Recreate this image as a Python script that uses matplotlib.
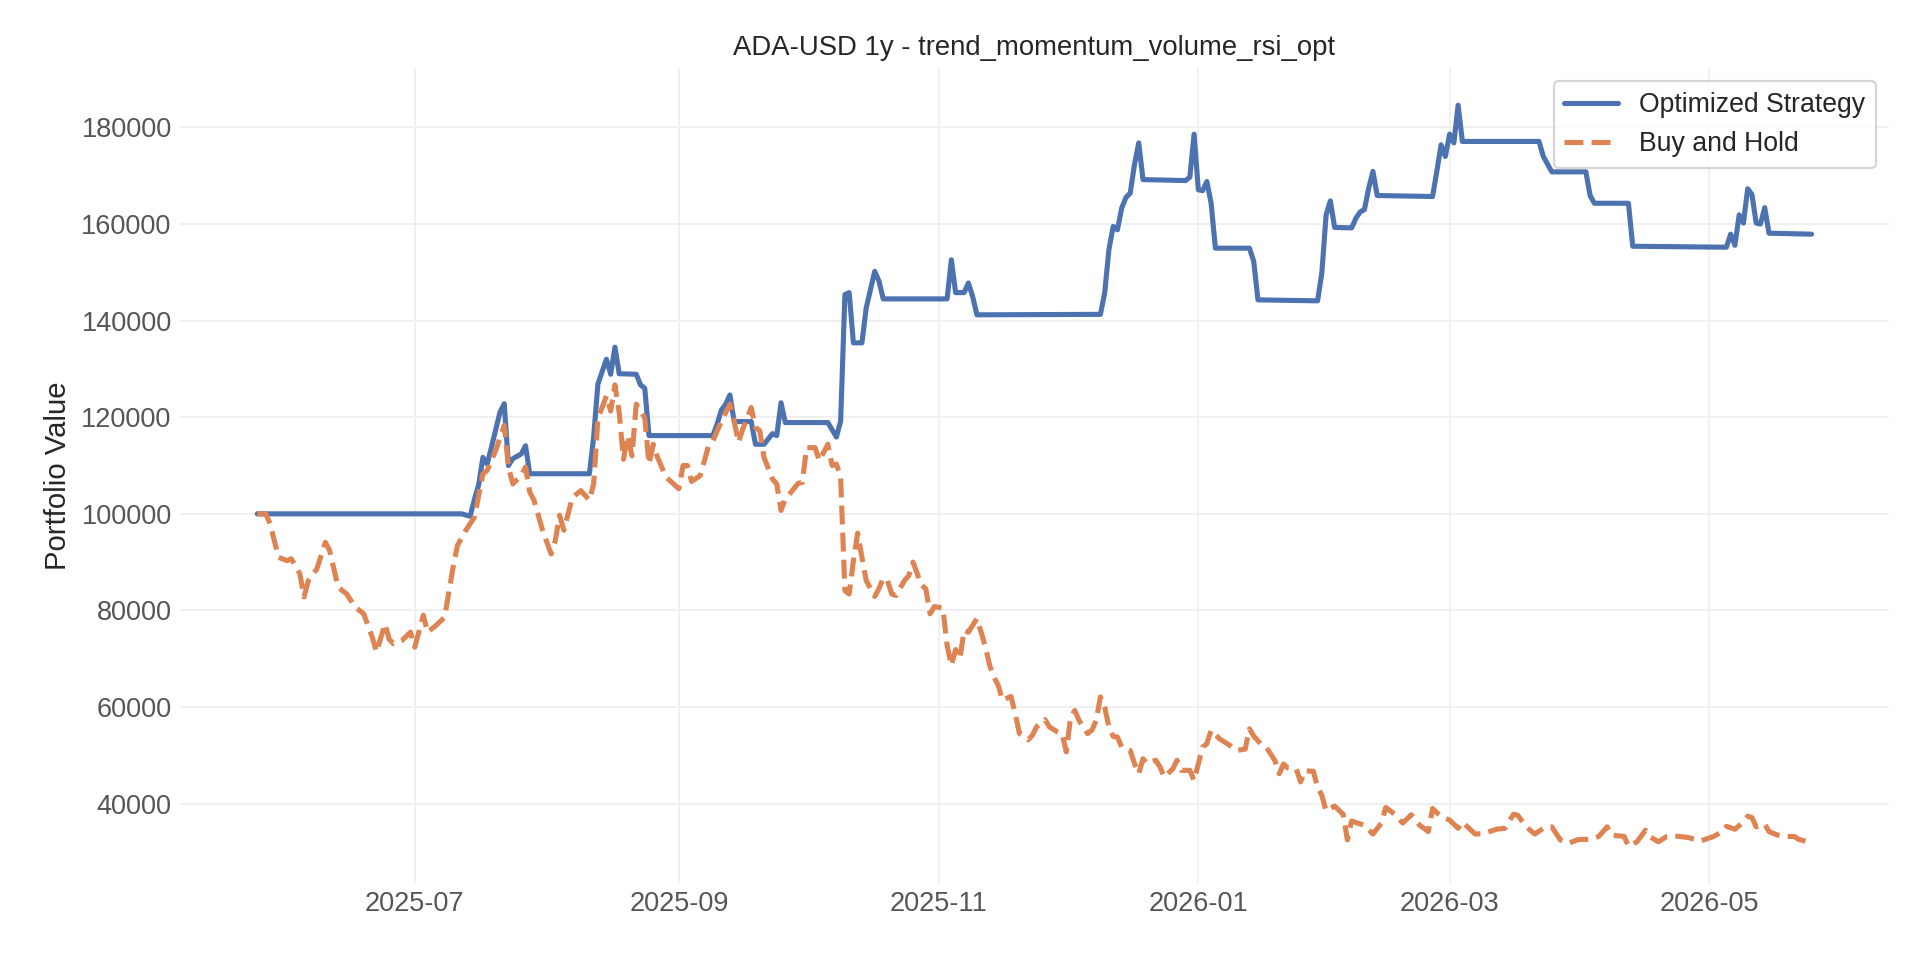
import pandas as pd
import matplotlib
matplotlib.use("Agg")
import matplotlib.pyplot as plt
import matplotlib.dates as mdates
import seaborn as sns

# ===========================
# DATA
# ===========================
START_DATE = "2025-05-25"
TITLE = "ADA-USD 1y - trend_momentum_volume_rsi_opt"

# day offsets from START_DATE
strategy_days = [0, 48, 50, 51, 52, 53, 54, 55, 57, 58, 59, 60, 62, 63, 64, 78, 79, 80, 82, 83,
                 84, 85, 89, 90, 91, 92, 107, 108, 109, 110, 111, 112, 116, 117, 119, 121, 122, 123, 124, 134,
                 136, 137, 138, 139, 140, 142, 143, 145, 146, 147, 162, 163, 164, 166, 167, 168, 169, 198, 199, 200,
                 201, 202, 203, 204, 205, 206, 207, 208, 218, 219, 220, 221, 222, 223, 224, 225, 233, 234, 235, 249,
                 250, 251, 252, 253, 257, 258, 259, 260, 261, 262, 263, 276, 277, 278, 279, 280, 281, 282, 283, 301,
                 302, 304, 312, 313, 314, 322, 323, 345, 346, 347, 348, 349, 350, 351, 352, 353, 354, 355, 365]
strategy_values = [100000, 100000, 99500, 103000, 106000, 111700, 110300, 113800, 121000, 122800,
                   110000, 111400, 112400, 114100, 108300, 108300, 115900, 126900, 132000, 128900,
                   134500, 129000, 128900, 126700, 126000, 116200, 116200, 118600, 121500, 122700,
                   124600, 119100, 119100, 114400, 114400, 116600, 116200, 123000, 118900, 118900,
                   115900, 119200, 145400, 145800, 135400, 135400, 142600, 150200, 148200, 144500,
                   144500, 152600, 145800, 145800, 147800, 145000, 141200, 141300, 145700, 154700,
                   159500, 158800, 163300, 165500, 166400, 172300, 176800, 169200, 169000, 169700,
                   178600, 167100, 166900, 168800, 164300, 155000, 155000, 152300, 144300, 144100,
                   149900, 161900, 164800, 159300, 159200, 161200, 162500, 163000, 167400, 170900,
                   165900, 165700, 170900, 176400, 174000, 178600, 176800, 184600, 177100, 177100,
                   174000, 170800, 170800, 165900, 164300, 164300, 155400, 155200, 157900, 155600,
                   161900, 160200, 167300, 166100, 160200, 160000, 163400, 158100, 157900]

bh_days = [0, 2, 3, 5, 7, 8, 10, 11, 12, 14, 16, 17, 19, 21, 23, 25, 27, 28, 30, 31,
           32, 34, 36, 37, 39, 40, 42, 44, 46, 47, 49, 51, 53, 54, 56, 58, 59, 60, 62, 63,
           64, 65, 67, 69, 70, 71, 72, 74, 76, 78, 79, 80, 82, 83, 84, 85, 86, 87, 88, 89,
           91, 92, 93, 94, 96, 99, 100, 101, 102, 104, 106, 107, 109, 111, 112, 113, 114, 116, 117, 118,
           119, 121, 122, 123, 124, 125, 127, 128, 129, 131, 132, 134, 135, 136, 137, 138, 139, 140, 141, 142,
           143, 145, 146, 147, 148, 149, 150, 152, 153, 154, 155, 156, 157, 158, 159, 161, 162, 163, 164, 165,
           166, 167, 169, 170, 171, 172, 173, 174, 175, 177, 178, 179, 181, 182, 183, 185, 186, 188, 189, 190,
           191, 192, 193, 195, 196, 197, 198, 199, 200, 201, 202, 203, 205, 206, 207, 208, 209, 211, 212, 213,
           215, 216, 217, 219, 220, 222, 223, 224, 226, 228, 230, 232, 233, 234, 236, 237, 239, 240, 241, 242,
           244, 245, 246, 248, 249, 250, 251, 253, 255, 256, 257, 260, 262, 264, 265, 267, 269, 271, 273, 274,
           275, 276, 278, 280, 282, 283, 286, 288, 291, 293, 295, 296, 298, 300, 302, 304, 306, 308, 310, 311,
           313, 315, 317, 318, 321, 322, 324, 326, 327, 329, 331, 333, 336, 339, 342, 344, 345, 347, 349, 350,
           351, 352, 354, 355, 357, 359, 361, 362, 365]
bh_values = [100000, 100000, 98000, 91000, 90300, 90700, 87600, 82800, 86200, 88600,
             94100, 92400, 84800, 83400, 80700, 79300, 74500, 71400, 77200, 74000,
             73100, 73800, 75500, 72400, 79000, 75500, 76900, 78600, 89000, 93400,
             96600, 99300, 108300, 109000, 113100, 118300, 109700, 106200, 107900, 109700,
             104500, 102800, 96600, 91700, 94500, 99700, 96600, 103400, 104800, 102800,
             106200, 119700, 124400, 121300, 126700, 121000, 111300, 116200, 112000, 122700,
             119900, 110300, 114400, 111700, 107600, 105200, 110000, 110000, 106700, 107900,
             114100, 115100, 119200, 122700, 119200, 114800, 117500, 122000, 117900, 117200,
             111700, 107200, 106200, 100700, 103100, 104100, 106300, 106500, 113700, 113700,
             111000, 114400, 110000, 110300, 107600, 84100, 83400, 90300, 96000, 91000,
             86200, 82900, 84500, 86700, 86200, 83400, 83100, 86200, 87200, 90000,
             87600, 85200, 84500, 79300, 80800, 80500, 72800, 68600, 71900, 70000,
             75900, 75500, 78300, 75500, 72400, 68600, 66200, 64500, 61400, 62200,
             58600, 54500, 53200, 54100, 55900, 57400, 55900, 54800, 54500, 50700,
             57900, 59300, 57200, 54500, 55200, 57200, 62100, 60000, 55900, 53900,
             53800, 51700, 51000, 48300, 46200, 49300, 48300, 49000, 47600, 45500,
             47200, 49000, 46900, 46900, 44800, 51700, 52400, 55200, 53400, 52300,
             51000, 51300, 55500, 54000, 52000, 51600, 48900, 46200, 48200, 47400,
             47200, 44500, 46800, 46700, 43400, 41700, 38500, 39500, 37800, 32500,
             36400, 35500, 33700, 36000, 39200, 37900, 36000, 37700, 35500, 34900,
             34200, 39000, 37300, 36600, 34900, 36200, 33700, 33800, 34700, 34900,
             37800, 37600, 35200, 33700, 34900, 35200, 32500, 31800, 32500, 32600,
             32600, 33200, 35200, 33500, 33200, 31200, 32100, 34500, 33200, 32100,
             33200, 33300, 33000, 32300, 33200, 34200, 35300, 34700, 36200, 37400,
             37100, 35200, 35800, 34200, 33500, 33200, 33200, 32600, 31900]

start = pd.Timestamp(START_DATE)
strategy_dates = start + pd.to_timedelta(strategy_days, unit="D")
bh_dates = start + pd.to_timedelta(bh_days, unit="D")

# ===========================
# STYLE
# ===========================
sns.set_theme(style="whitegrid")
plt.rcParams["font.family"] = ["Liberation Sans", "DejaVu Sans"]

fig, ax = plt.subplots(figsize=(12, 6), dpi=160)
fig.subplots_adjust(left=0.0935, right=0.984, top=0.929, bottom=0.080)

ax.plot(strategy_dates, strategy_values, color="#4C72B0", linewidth=2.3, label="Optimized Strategy")
ax.plot(bh_dates, bh_values, color="#DD8452", linewidth=2.3, linestyle="--", label="Buy and Hold")

ax.set_title(TITLE, fontsize=12.4, color="#262626")
ax.set_ylabel("Portfolio Value", fontsize=13.2, color="#262626")

ax.xaxis.set_major_locator(mdates.MonthLocator(bymonth=[1, 3, 5, 7, 9, 11]))
ax.xaxis.set_major_formatter(mdates.DateFormatter("%Y-%m"))
ax.tick_params(axis="both", labelsize=12.2, labelcolor="#555555", length=0)

ax.grid(True, color="#efefef", linewidth=0.8)
for spine in ax.spines.values():
    spine.set_visible(False)

leg = ax.legend(loc="upper right", fontsize=12, frameon=True)
leg.get_frame().set_edgecolor("#cccccc")
leg.get_frame().set_facecolor("white")

plt.savefig("out.png", dpi=160)
